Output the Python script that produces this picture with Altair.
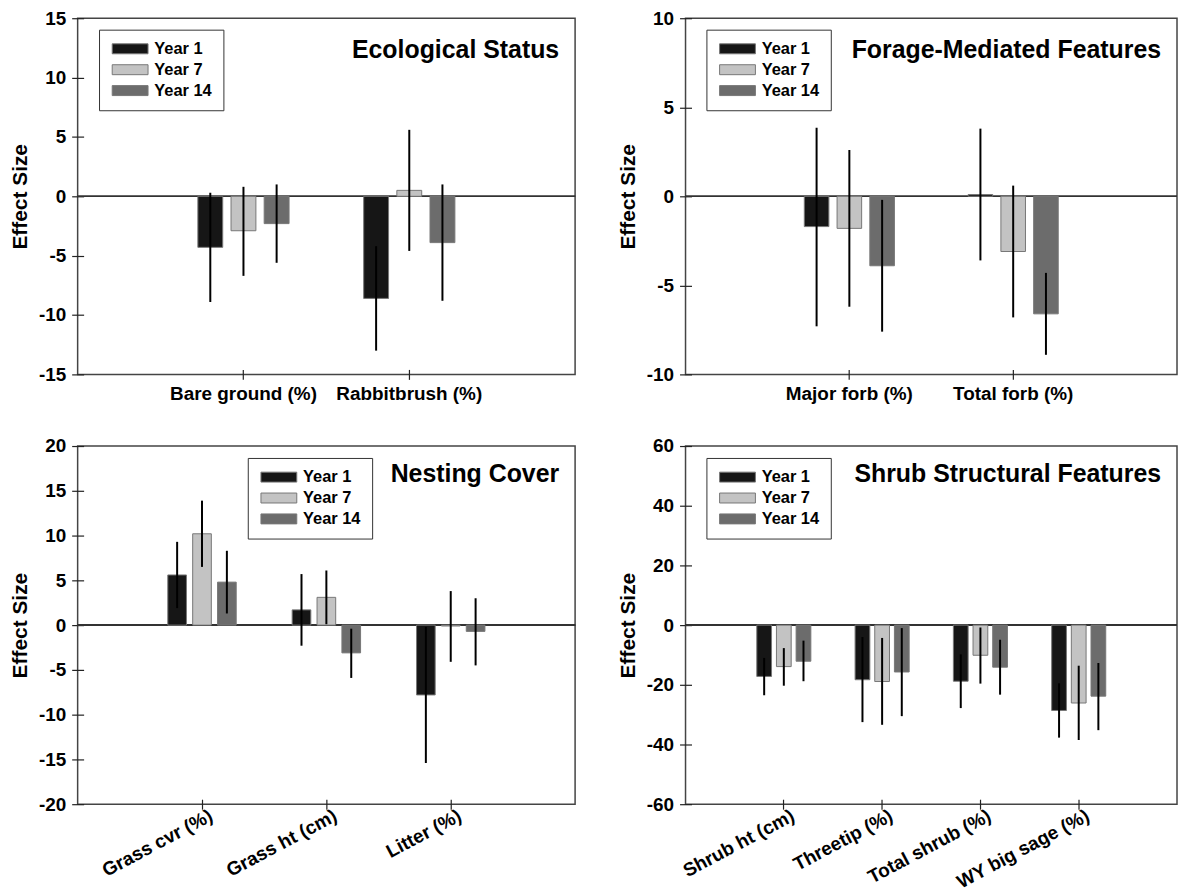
import altair as alt
import pandas as pd

years = ["Year 1", "Year 7", "Year 14"]
colors = ["#161616", "#c3c3c3", "#6c6c6c"]

# Ecological Status
eco_cats = ["Bare ground (%)", "Rabbitbrush (%)"]
eco_y1 = [-4.3, -8.6]
eco_y7 = [-2.9, 0.5]
eco_y14 = [-2.3, -3.9]
eco_lo1 = [-8.9, -13.0]
eco_hi1 = [0.3, -4.2]
eco_lo7 = [-6.7, -4.6]
eco_hi7 = [0.8, 5.6]
eco_lo14 = [-5.6, -8.8]
eco_hi14 = [1.0, 1.0]

# Forage-Mediated Features
for_cats = ["Major forb (%)", "Total forb (%)"]
for_y1 = [-1.7, 0.1]
for_y7 = [-1.8, -3.1]
for_y14 = [-3.9, -6.6]
for_lo1 = [-7.3, -3.6]
for_hi1 = [3.85, 3.8]
for_lo7 = [-6.2, -6.8]
for_hi7 = [2.6, 0.6]
for_lo14 = [-7.6, -8.9]
for_hi14 = [-0.2, -4.3]

# Nesting Cover
nest_cats = ["Grass cvr (%)", "Grass ht (cm)", "Litter (%)"]
nest_y1 = [5.6, 1.7, -7.8]
nest_y7 = [10.2, 3.1, -0.1]
nest_y14 = [4.8, -3.1, -0.7]
nest_lo1 = [1.9, -2.3, -15.4]
nest_hi1 = [9.3, 5.7, -0.2]
nest_lo7 = [6.5, 0.1, -4.1]
nest_hi7 = [13.9, 6.1, 3.8]
nest_lo14 = [1.3, -5.9, -4.5]
nest_hi14 = [8.3, -0.4, 3.0]

# Shrub Structural Features
shrub_cats = ["Shrub ht (cm)", "Threetip (%)", "Total shrub (%)", "WY big sage (%)"]
shrub_y1 = [-17.2, -18.3, -18.8, -28.6]
shrub_y7 = [-13.9, -18.9, -10.1, -26.1]
shrub_y14 = [-12.1, -15.7, -14.1, -23.8]
shrub_lo1 = [-23.5, -32.5, -27.8, -37.7]
shrub_hi1 = [-11.0, -4.0, -9.8, -19.5]
shrub_lo7 = [-20.3, -33.4, -19.6, -38.5]
shrub_hi7 = [-7.7, -4.3, -0.8, -13.6]
shrub_lo14 = [-18.8, -30.5, -23.3, -35.2]
shrub_hi14 = [-5.2, -1.0, -4.9, -12.7]

FONT = "Liberation Sans"
LEG_PATH = "M-3.6,-1H3.6V1H-3.6Z"


def make_df(cats, vals, los, his):
    rows = []
    for yi, yr in enumerate(years):
        for ci, c in enumerate(cats):
            rows.append({"cat": c, "year": yr, "value": vals[yi][ci],
                         "lo": los[yi][ci], "hi": his[yi][ci]})
    return pd.DataFrame(rows)


def panel(cats, vals, los, his, ymin, ymax, step, title, legx, legy,
          angle, w, h, title_y):
    df = make_df(cats, vals, los, his)
    xscale = alt.Scale(domain=cats, paddingInner=0.4, paddingOuter=0.7)
    if angle == 0:
        xaxis = alt.Axis(title=None, labelAngle=0, offset=-5, tickSize=10,
                         domain=False, labelPadding=5)
    else:
        xaxis = alt.Axis(title=None, labelAngle=angle, offset=-5, tickSize=10,
                         domain=False, labelPadding=-3, labelOffset=5,
                         labelAlign="right", labelBaseline="top")
    x = alt.X("cat:N", scale=xscale, sort=cats, axis=xaxis)
    xo = alt.XOffset("year:N", sort=years,
                     scale=alt.Scale(domain=years, paddingInner=0.25,
                                     paddingOuter=0.125))
    yscale = alt.Scale(domain=[ymin, ymax], nice=False, zero=False)
    yaxis = alt.Axis(title="Effect Size", values=list(range(ymin, ymax + 1, step)),
                     offset=-6, tickSize=12, domain=False, grid=False,
                     labelPadding=6, labelExpr="'' + datum.value")
    color = alt.Color(
        "year:N", sort=years,
        scale=alt.Scale(domain=years, range=colors),
        legend=alt.Legend(
            title=None, orient="none", legendX=legx, legendY=legy,
            symbolType=LEG_PATH, symbolSize=100, symbolStrokeColor="#777",
            symbolStrokeWidth=1, labelFontSize=16.5, labelFont=FONT,
            labelFontWeight="bold", labelColor="black", strokeColor="#333",
            fillColor="white", padding=11, rowPadding=4, symbolOffset=12,
            labelOffset=16, labelLimit=200),
    )
    zero = alt.Chart(df).mark_rule(color="#333", strokeWidth=1).encode(
        y=alt.datum(0, scale=yscale, axis=yaxis))
    bars = alt.Chart(df).mark_bar(stroke="#777", strokeWidth=1).encode(
        x=x, xOffset=xo,
        y=alt.Y("value:Q", scale=yscale, axis=yaxis),
        y2=alt.datum(0), color=color)
    errs = alt.Chart(df).mark_rule(color="black", strokeWidth=2).encode(
        x=x, xOffset=xo, y=alt.Y("lo:Q", scale=yscale, axis=yaxis), y2="hi:Q")
    ttl = alt.Chart(pd.DataFrame({"t": [title]})).mark_text(
        align="right", baseline="middle", fontSize=25, fontWeight="bold",
        font=FONT, color="black").encode(
        text="t:N", x=alt.value(w - 16), y=alt.value(title_y))
    return alt.layer(zero, bars, errs, ttl).properties(width=w, height=h)


W1 = 500
W2 = 494
p1 = panel(eco_cats, [eco_y1, eco_y7, eco_y14], [eco_lo1, eco_lo7, eco_lo14],
           [eco_hi1, eco_hi7, eco_hi14], -15, 15, 5, "Ecological Status",
           21.5, 11.5, 0, W1, 358, 32)
p2 = panel(for_cats, [for_y1, for_y7, for_y14], [for_lo1, for_lo7, for_lo14],
           [for_hi1, for_hi7, for_hi14], -10, 10, 5, "Forage-Mediated Features",
           21, 11.5, 0, W2, 358, 32)
p3 = panel(nest_cats, [nest_y1, nest_y7, nest_y14], [nest_lo1, nest_lo7, nest_lo14],
           [nest_hi1, nest_hi7, nest_hi14], -20, 20, 5, "Nesting Cover",
           171, 12, -28, W1, 360, 28)
p4 = panel(shrub_cats, [shrub_y1, shrub_y7, shrub_y14],
           [shrub_lo1, shrub_lo7, shrub_lo14], [shrub_hi1, shrub_hi7, shrub_hi14],
           -60, 60, 20, "Shrub Structural Features", 21, 12, -28, W2, 360, 28)

res = dict(color="independent", x="independent", y="independent",
           xOffset="independent")
top = alt.hconcat(p1, p2, spacing=39).resolve_scale(**res).resolve_legend(color="independent")
bot = alt.hconcat(p3, p4, spacing=39).resolve_scale(**res).resolve_legend(color="independent")

chart = alt.vconcat(top, bot, spacing=32).resolve_scale(**res).resolve_legend(
    color="independent").properties(
    padding={"left": 0, "top": -2, "right": 0, "bottom": 0}
).configure_view(stroke="#444", strokeWidth=1.5).configure_axis(
    labelFont=FONT, labelFontWeight="bold", labelFontSize=19, labelColor="black",
    tickColor="#222", tickWidth=1.2, titleFont=FONT, titleFontSize=21,
    titleFontWeight="bold", titleColor="black", titlePadding=8
)

chart.save("out.html", embed_options={"renderer": "svg", "actions": False})
